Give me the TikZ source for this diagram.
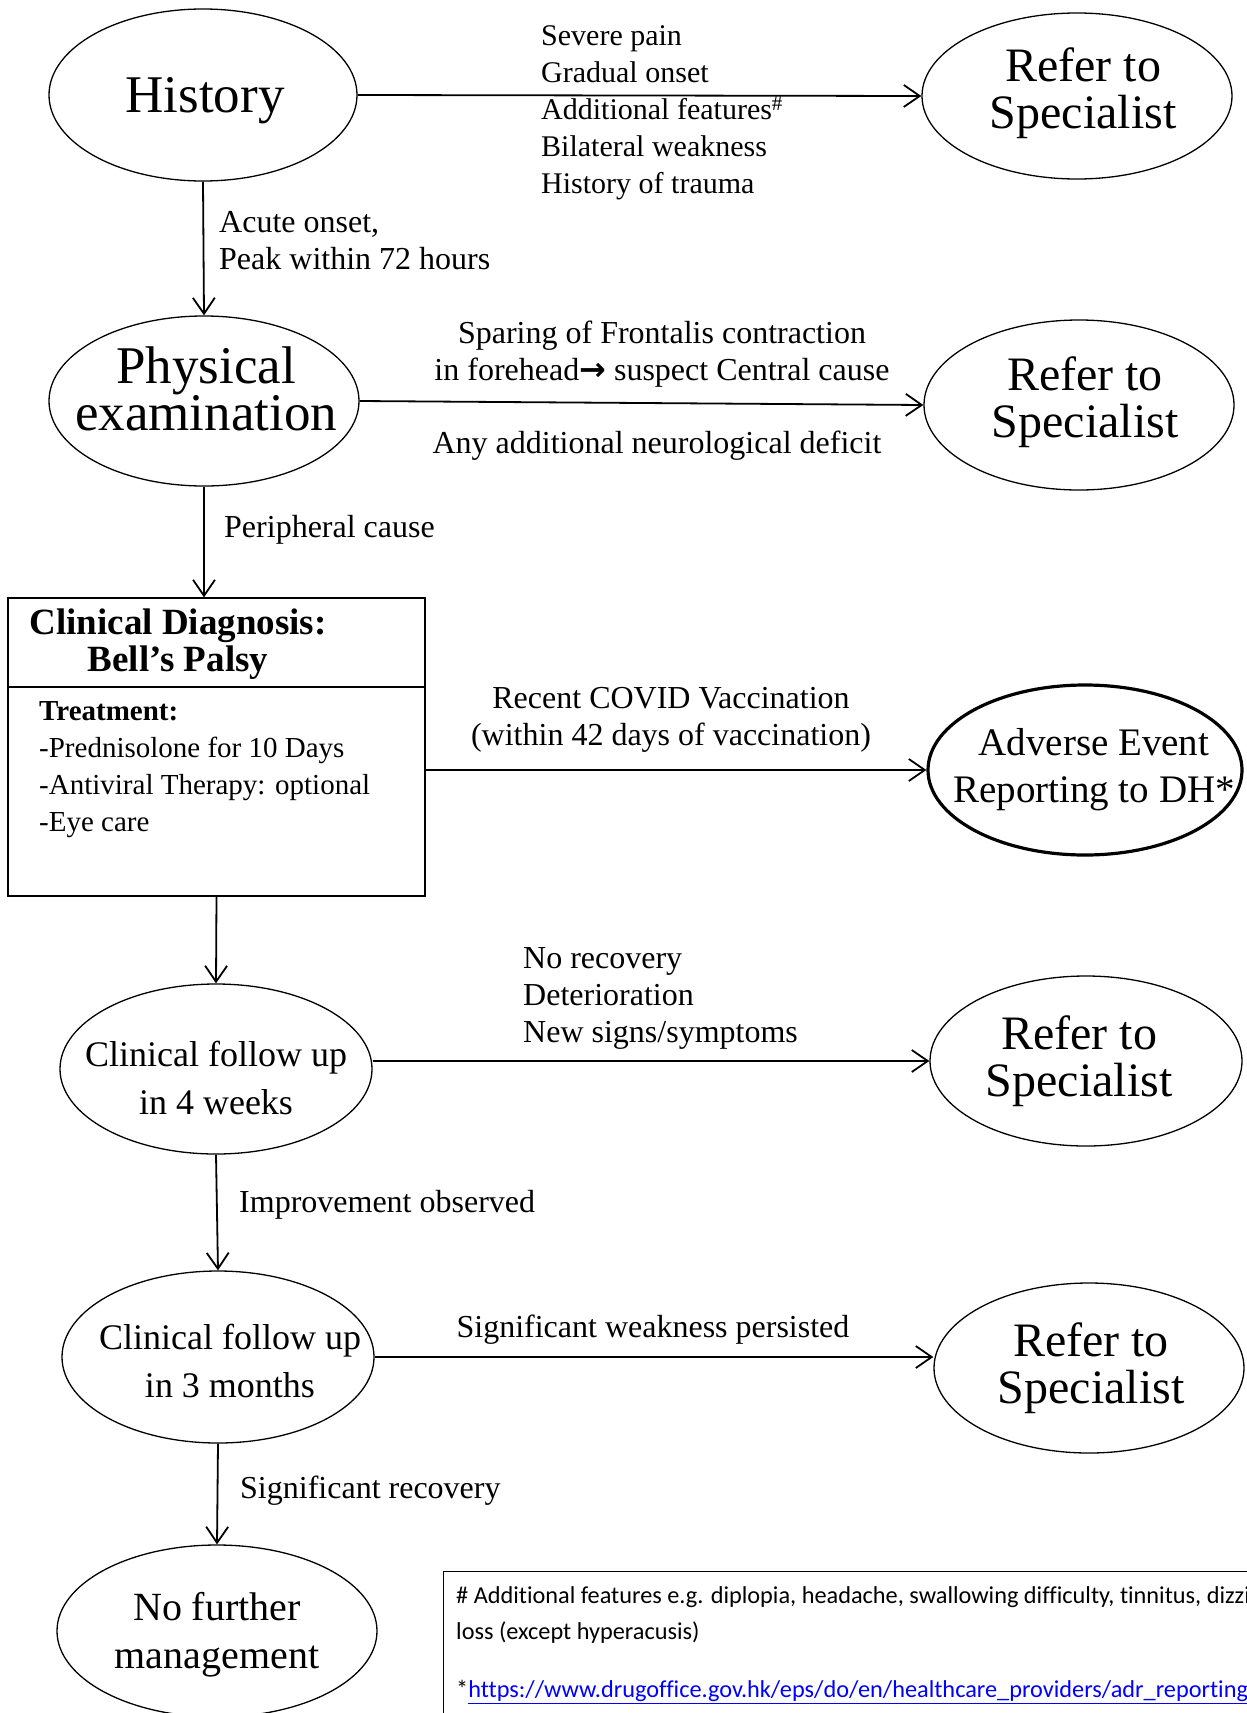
\documentclass[tikz,border=0pt]{standalone}
\usepackage{fontspec}
\setmainfont{Liberation Serif}
\newfontfamily\notefont{Carlito}[Ligatures=NoCommon]
\newfontfamily\symfont{DejaVu Sans}
\usetikzlibrary{shapes.geometric,arrows.meta}

\tikzset{
  oval/.style={draw, ellipse, line width=1.3pt, inner sep=0pt,
    minimum width=310pt, minimum height=170pt},
  ovaltext/.style={inner sep=0pt, align=center},
  refertext/.style={ovaltext, font=\fontsize{48}{47}\selectfont},
  futext/.style={ovaltext, font=\fontsize{36}{48}\selectfont},
  flow/.style={line width=1.8pt, -{Straight Barb[length=16pt,width=22pt]}},
  lbl/.style={inner sep=0pt, align=left, font=\fontsize{32}{37}\selectfont},
  notetext/.style={inner sep=0pt, anchor=west, align=left, font=\notefont\fontsize{24.3}{36}\selectfont},
}

\begin{document}
\begin{tikzpicture}[x=1pt, y=-1pt]
  \useasboundingbox (0,0) rectangle (1247,1713);
  \clip (0,0) rectangle (1247,1713);
  %
  \node[oval, minimum width=308pt, minimum height=172pt] (hist) at (203,95) {};   % left column
  \node[oval] (exam) at (204,401) {};
  \node[draw, line width=1.3pt, minimum width=417pt, minimum height=298pt] (diag) at (216.5,747) {};
  \node[oval, minimum width=312pt] (fu4) at (216,1069) {};
  \node[oval, minimum width=312pt, minimum height=172pt] (fu3) at (218,1357) {};
  \node[oval, minimum width=320pt, minimum height=172pt] (nofurther) at (217,1631) {};
  %
  \node[oval, minimum height=166pt] (ref1) at (1077,96) {};     % right column
  \node[oval] (ref2) at (1079,405) {};
  \node[oval, line width=3.2pt, minimum width=314pt] (adv) at (1085,770) {};
  \node[oval, minimum width=312pt] (ref3) at (1086,1061) {};
  \node[oval] (ref4) at (1089,1368) {};
  %
  \node[ovaltext, font=\fontsize{53}{47}\selectfont] (histtext) at (205,101) {History};
  \node[ovaltext, font=\fontsize{53}{47}\selectfont] (examtext) at (206,389) {Physical\\examination};
  \node[futext] (fu4text) at (216,1078) {Clinical follow up\\in 4 weeks};
  \node[futext] (fu3text) at (230,1361) {Clinical follow up\\in 3 months};
  \node[ovaltext, font=\fontsize{40}{48}\selectfont] (nofurthertext) at (217,1635) {No further\\management};
  \node[refertext] (ref1text) at (1083,93) {Refer to\\Specialist};
  \node[refertext] (ref2text) at (1085,402) {Refer to\\Specialist};
  \node[ovaltext, font=\fontsize{39}{47}\selectfont] (advtext) at (1094,770) {Adverse Event\\Reporting to DH*};
  \node[refertext] (ref3text) at (1079,1061) {Refer to\\Specialist};
  \node[refertext] (ref4text) at (1091,1368) {Refer to\\Specialist};
  %
  \draw[line width=1.3pt] (diag.west |- 0,687) -- (diag.east |- 0,687);   % diagnosis box
  \node[ovaltext, font=\fontsize{37}{37}\selectfont\bfseries]
    (diagtitle) at (178,644) {Clinical Diagnosis:\\Bell’s Palsy};
  \node[lbl, anchor=west, font=\fontsize{29}{37}\selectfont] (diagbody) at (39,770)
    {\textbf{Treatment:}\\-Prednisolone for 10 Days\\-Antiviral Therapy: optional\\-Eye care};
  %
  \draw[flow] (hist.east) -- (ref1.west);                % arrows
  \draw[flow] (exam.east) -- (ref2.west);
  \draw[flow] (diag.east |- adv.west) -- (adv.west);
  \draw[flow] (fu4.east |- ref3.west) -- (ref3.west);
  \draw[flow] (fu3.east) -- (fu3.east -| ref4.west);
  \draw[flow] (hist.south) -- (exam.north);
  \draw[flow] (exam.south) -- (exam.south |- diag.north);
  \draw[flow] (diag.south) -- (fu4.north);
  \draw[flow] (fu4.south) -- (fu3.north);
  \draw[flow] (fu3.south) -- (nofurther.north);
  %
  \node[lbl, anchor=west, font=\fontsize{30}{37}\selectfont] (lblref1) at (541,113)
    {Severe pain\\Gradual onset\\Additional features\textsuperscript{\#}\\Bilateral weakness\\History of trauma};
  \node[lbl, anchor=west] (lblacute) at (219,241) {Acute onset,\\Peak within 72 hours};
  \node[lbl, align=center] (lblcentral) at (662,354)
    {Sparing of Frontalis contraction\\in forehead{\symfont\bfseries →} suspect Central cause};
  \node[lbl] (lbldeficit) at (657,446) {Any additional neurological deficit};
  \node[lbl, anchor=west] (lblperiph) at (224,530) {Peripheral cause};
  \node[lbl, align=center] (lblcovid) at (671,720)
    {Recent COVID Vaccination\\(within 42 days of vaccination)};
  \node[lbl, anchor=west] (lblref3) at (523,998) {No recovery\\Deterioration\\New signs/symptoms};
  \node[lbl, anchor=west] (lblimprove) at (239,1205) {Improvement observed};
  \node[lbl] (lblweak) at (653,1330) {Significant weakness persisted};
  \node[lbl, anchor=west] (lblrecover) at (240,1491) {Significant recovery};
  %
  \node[draw, line width=1.3pt, anchor=north west, minimum width=900pt,
    minimum height=250pt] (notebox) at (443,1571) {};   % footnotes
  \node[notetext] (note1) at (456,1615)
    {\# Additional features e.g. diplopia, headache, swallowing difficulty, tinnitus, dizziness, hearing\\loss (except hyperacusis)};
  \node[notetext] (note2) at (456,1692)
    {*\textcolor{blue}{\underline{https://www.drugoffice.gov.hk/eps/do/en/healthcare\_providers/adr\_reporting}}};
\end{tikzpicture}
\end{document}
